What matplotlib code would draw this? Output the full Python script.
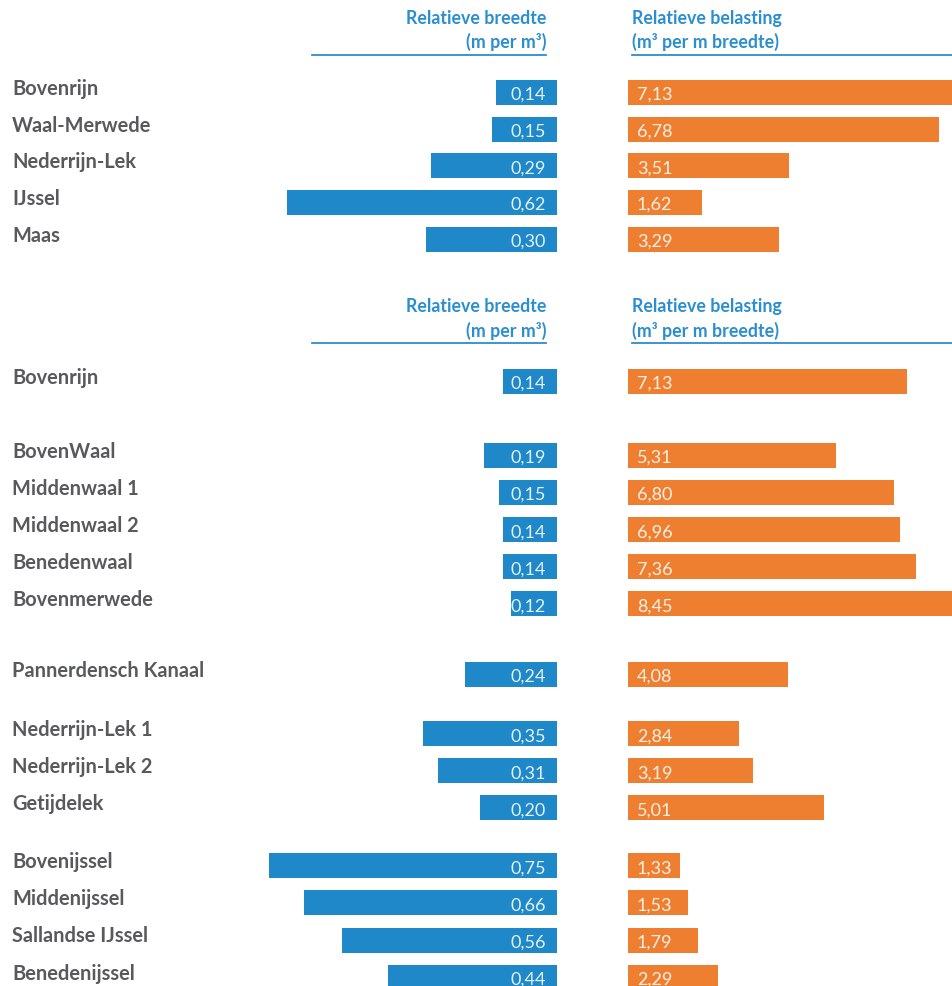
import matplotlib
matplotlib.use("Agg")
import matplotlib.pyplot as plt
from matplotlib.lines import Line2D

# Data: relative width (m per m3) and relative load (m3 per m width)
rivers_top = ["Bovenrijn", "Waal-Merwede", "Nederrijn-Lek", "IJssel", "Maas"]
breedte_top = [0.14, 0.15, 0.29, 0.62, 0.30]
belasting_top = [7.13, 6.78, 3.51, 1.62, 3.29]

groups_bottom = [
    ["Bovenrijn"],
    ["BovenWaal", "Middenwaal 1", "Middenwaal 2", "Benedenwaal", "Bovenmerwede"],
    ["Pannerdensch Kanaal"],
    ["Nederrijn-Lek 1", "Nederrijn-Lek 2", "Getijdelek"],
    ["Bovenijssel", "Middenijssel", "Sallandse IJssel", "Benedenijssel"],
]
breedte_bottom = [0.14, 0.19, 0.15, 0.14, 0.14, 0.12, 0.24,
                  0.35, 0.31, 0.20, 0.75, 0.66, 0.56, 0.44]
belasting_bottom = [7.13, 5.31, 6.80, 6.96, 7.36, 8.45, 4.08,
                    2.84, 3.19, 5.01, 1.33, 1.53, 1.79, 2.29]

hdr_left = ["Relatieve breedte", "(m per m³)"]
hdr_right = ["Relatieve belasting", "(m³ per m breedte)"]

BLUE = "#1f88c9"
ORANGE = "#ee7f31"
HEAD = "#2b8ed0"
GREY = "#58595b"

W, H = 952, 987
fig = plt.figure(figsize=(W / 100, H / 100), dpi=100, facecolor="white")
PT = 0.72  # points per pixel at dpi 100


def px_axes(x0, x1, y0, y1):
    ax = fig.add_axes([x0 / W, 1 - y1 / H, (x1 - x0) / W, (y1 - y0) / H])
    ax.axis("off")
    return ax


def fmt(v):
    return f"{v:.2f}".replace(".", ",")


def header(y_top):
    # two-line headings with a thin rule underneath
    kw = dict(va="baseline", color=HEAD, fontsize=12.8, fontweight="bold", family="Lato")
    fig.text(546 / W, 1 - (y_top + 24) / H, hdr_left[0], ha="right", **kw)
    fig.text(546 / W, 1 - (y_top + 48.3) / H, hdr_left[1], ha="right", **kw)
    fig.text(632 / W, 1 - (y_top + 24) / H, hdr_right[0], ha="left", **kw)
    fig.text(632 / W, 1 - (y_top + 48.3) / H, hdr_right[1], ha="left", **kw)
    for x0, x1 in [(312, 546), (632, 952)]:
        fig.add_artist(Line2D([x0 / W, x1 / W], [1 - (y_top + 56) / H] * 2,
                              transform=fig.transFigure, color=HEAD, lw=1.3))


def panel(names, pos, breedte, belasting, y_first, step, blue_scale, orange_scale):
    n_lo, n_hi = -0.5, pos[-1] + 0.5
    y0 = y_first + n_lo * step
    y1 = y_first + n_hi * step
    bh = 25 / step

    # blue bars grow leftwards from x = 557 px
    bmax = 300 / blue_scale
    axb = px_axes(557 - bmax * blue_scale, 557, y0, y1)
    axb.barh(pos, breedte, height=bh, color=BLUE)
    axb.set_xlim(bmax, 0)
    axb.set_ylim(n_hi, n_lo)

    # orange bars grow rightwards from x = 628 px
    omax = 324 / orange_scale
    axo = px_axes(628, 952, y0, y1)
    axo.barh(pos, belasting, height=bh, color=ORANGE)
    axo.set_xlim(0, omax)
    axo.set_ylim(n_hi, n_lo)

    val_kw = dict(textcoords="offset points", va="baseline", color="white",
                  alpha=0.88, fontsize=13, family="Lato")
    for name, p, b, o in zip(names, pos, breedte, belasting):
        axb.annotate(name, xy=(12, p), xycoords=("figure pixels", "data"),
                     xytext=(0, -1.4 * PT), textcoords="offset points",
                     ha="left", va="baseline", color=GREY, fontsize=14.4,
                     fontweight="bold", family="Lato", annotation_clip=False)
        axb.annotate(fmt(b), xy=(0, p), xytext=(-11 * PT, -6.5 * PT),
                     ha="right", **val_kw)
        axo.annotate(fmt(o), xy=(0, p), xytext=(9 * PT, -6.5 * PT),
                     ha="left", **val_kw)


# top panel: five main river branches
header(0)
panel(rivers_top, list(range(len(rivers_top))), breedte_top, belasting_top,
      93.5, 36.7, 435.0, 45.8)

# bottom panel: river sections in groups with extra space between groups
gaps = [1.0, 0.9, 0.6, 0.56]
names_bottom, pos_bottom = [], []
y = 0.0
for gi, grp in enumerate(groups_bottom):
    for nm in grp:
        names_bottom.append(nm)
        pos_bottom.append(y)
        y += 1
    if gi < len(gaps):
        y += gaps[gi]

header(288.3)
panel(names_bottom, pos_bottom, breedte_bottom, belasting_bottom,
      382.3, 37.1, 384.0, 39.1)

fig.savefig("out.png", dpi=100)
